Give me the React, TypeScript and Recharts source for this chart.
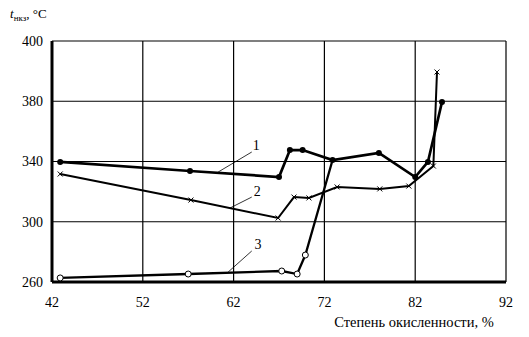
import React from 'react';
import { LineChart, Line, XAxis, YAxis, CartesianGrid, ReferenceLine, ReferenceDot } from 'recharts';

const xTicks = [42, 52, 62, 72, 82, 92];
const yTicks = [260, 300, 340, 380, 420];
const yTickLabels = ['260', '300', '340', '380', '400'];

const curve1 = [
  { x: 42.9, y: 339.7 },
  { x: 57.2, y: 333.7 },
  { x: 67.0, y: 329.7 },
  { x: 68.2, y: 347.6 },
  { x: 69.6, y: 347.6 },
  { x: 72.9, y: 341.0 },
  { x: 78.0, y: 345.7 },
  { x: 82.0, y: 329.7 },
  { x: 83.4, y: 339.7 },
  { x: 84.95, y: 379.5 },
];

const curve2 = [
  { x: 42.9, y: 331.7 },
  { x: 57.3, y: 314.4 },
  { x: 66.9, y: 302.5 },
  { x: 68.65, y: 316.4 },
  { x: 70.3, y: 315.8 },
  { x: 73.4, y: 323.1 },
  { x: 78.1, y: 321.8 },
  { x: 81.3, y: 323.7 },
  { x: 84.0, y: 337.0 },
  { x: 84.4, y: 399.4 },
];

const curve3 = [
  { x: 42.9, y: 262.7, m: 1 },
  { x: 57.0, y: 265.3, m: 1 },
  { x: 67.3, y: 267.3, m: 1 },
  { x: 69.0, y: 265.3, m: 1 },
  { x: 69.9, y: 277.9, m: 1 },
  { x: 72.9, y: 341.0, m: 0 },
];

const curveLabels = ['1', '2', '3'];
const leaderStarts = [
  { x: 60.3, y: 333.0 },
  { x: 61.6, y: 309.1 },
  { x: 61.4, y: 266.6 },
];
const leaderEnds = [
  { x: 64.0, y: 346.3 },
  { x: 64.0, y: 316.4 },
  { x: 64.0, y: 280.6 },
];
const labelPositions = [
  { x: 64.5, y: 350.3 },
  { x: 64.6, y: 319.8 },
  { x: 64.7, y: 285.2 },
];

const FONT = '"Liberation Serif", "Times New Roman", serif';

const FilledDot = (props: any) => {
  const { cx, cy, index } = props;
  if (cx == null || cy == null) return <g key={index} />;
  return <circle key={index} cx={cx} cy={cy} r={3} fill="#000" stroke="none" />;
};

const CrossDot = (props: any) => {
  const { cx, cy, index } = props;
  if (cx == null || cy == null) return <g key={index} />;
  const s = 2.5;
  return (
    <g key={index}>
      <line x1={cx - s} y1={cy - s} x2={cx + s} y2={cy + s} stroke="#000" strokeWidth={1} />
      <line x1={cx - s} y1={cy + s} x2={cx + s} y2={cy - s} stroke="#000" strokeWidth={1} />
    </g>
  );
};

const OpenDot = (props: any) => {
  const { cx, cy, index, payload } = props;
  if (cx == null || cy == null || !payload || !payload.m) return <g key={index} />;
  return <circle key={index} cx={cx} cy={cy} r={3} fill="#fff" stroke="#000" strokeWidth={1} />;
};

export default function App() {
  return (
    <div style={{ position: 'absolute', left: 0, top: 0, width: 529, height: 337, background: '#fff' }}>
      <LineChart
        width={529}
        height={337}
        margin={{ top: 41, right: 23, left: 0, bottom: 25 }}
        style={{ fontFamily: FONT }}
      >
        <CartesianGrid stroke="#000" strokeWidth={1.2} horizontalValues={yTicks} verticalValues={xTicks} />
        <XAxis
          type="number"
          dataKey="x"
          domain={[42, 92]}
          ticks={xTicks}
          allowDataOverflow
          tickLine={false}
          tickSize={0}
          tickMargin={15}
          axisLine={{ stroke: '#000', strokeWidth: 3 }}
          tick={{ fill: '#000', fontSize: 14, fontFamily: FONT }}
          height={30}
        />
        <YAxis
          type="number"
          domain={[260, 420]}
          ticks={yTicks}
          allowDataOverflow
          tickFormatter={(v: number) => yTickLabels[yTicks.indexOf(v)] ?? String(v)}
          tickLine={false}
          tickSize={0}
          tickMargin={9}
          axisLine={{ stroke: '#000', strokeWidth: 3 }}
          tick={{ fill: '#000', fontSize: 14, fontFamily: FONT }}
          width={52}
        />
        <Line
          data={curve3}
          dataKey="y"
          type="linear"
          stroke="#000"
          strokeWidth={2.3}
          dot={<OpenDot />}
          activeDot={false}
          isAnimationActive={false}
        />
        <Line
          data={curve2}
          dataKey="y"
          type="linear"
          stroke="#000"
          strokeWidth={2}
          dot={<CrossDot />}
          activeDot={false}
          isAnimationActive={false}
        />
        <Line
          data={curve1}
          dataKey="y"
          type="linear"
          stroke="#000"
          strokeWidth={2.7}
          dot={<FilledDot />}
          activeDot={false}
          isAnimationActive={false}
        />
        {curveLabels.map((lab, i) => (
          <ReferenceLine
            key={'l' + i}
            segment={[leaderStarts[i], leaderEnds[i]]}
            stroke="#000"
            strokeWidth={0.8}
            ifOverflow="visible"
          />
        ))}
        {curveLabels.map((lab, i) => (
          <ReferenceDot
            key={'d' + i}
            x={labelPositions[i].x}
            y={labelPositions[i].y}
            r={0}
            ifOverflow="visible"
            shape={(p: any) => (
              <text x={p.cx} y={p.cy} textAnchor="middle" dominantBaseline="central" fontSize={14} fontFamily={FONT} fill="#000">
                {lab}
              </text>
            )}
          />
        ))}
      </LineChart>
      <svg width={529} height={337} style={{ position: 'absolute', left: 0, top: 0, pointerEvents: 'none' }}>
        <text x={10} y={18} fontFamily={FONT} fontSize={13} fill="#000">
          <tspan fontStyle="italic">t</tspan>
          <tspan fontSize={9} dy={3}>нкз</tspan>
          <tspan dy={-3}>, °C</tspan>
        </text>
        <text x={414} y={327} textAnchor="middle" fontFamily={FONT} fontSize={14.5} fill="#000">
          Степень окисленности, %
        </text>
      </svg>
    </div>
  );
}
